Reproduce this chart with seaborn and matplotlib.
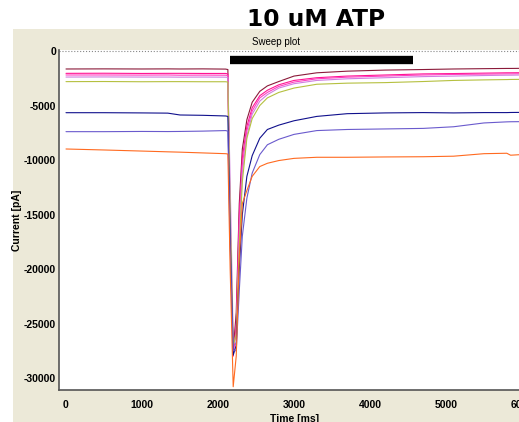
import pandas as pd
import numpy as np
import matplotlib.pyplot as plt
import seaborn as sns
from matplotlib.patches import Rectangle

# sweep times (ms) and current traces (pA)
time_ms = [0, 500, 1000, 1340, 1500, 1800, 2100, 2130, 2160, 2200, 2240, 2280, 2320, 2380,
           2450, 2550, 2650, 2800, 3000, 3300, 3700, 4200, 4700, 5100, 5500, 5800, 5850, 6000]

dark_red = [-1650, -1640, -1650, -1640, -1650, -1640, -1660, -1700, -16000, -27500, -24000, -14000, -9000, -6300,
            -4700, -3700, -3200, -2800, -2300, -2000, -1850, -1750, -1700, -1650, -1620, -1600, -1600, -1590]
magenta = [-2050, -2040, -2060, -2050, -2050, -2060, -2060, -2100, -17000, -28000, -25000, -15000, -9800, -6900,
           -5200, -4100, -3600, -3100, -2700, -2450, -2300, -2200, -2100, -2070, -2030, -2000, -2000, -1990]
hot_pink = [-2200, -2200, -2210, -2200, -2220, -2210, -2220, -2250, -16500, -27000, -26000, -16000, -10500, -7300,
            -5500, -4300, -3800, -3250, -2850, -2550, -2400, -2300, -2200, -2150, -2120, -2100, -2100, -2090]
violet = [-2390, -2380, -2390, -2390, -2400, -2390, -2400, -2420, -12000, -26500, -27000, -17500, -11200, -7800,
          -5800, -4600, -4000, -3400, -3000, -2700, -2550, -2450, -2350, -2300, -2250, -2220, -2220, -2200]
olive = [-2810, -2800, -2820, -2810, -2810, -2820, -2820, -2850, -15000, -27000, -26000, -18000, -12000, -8000,
         -6200, -5000, -4300, -3800, -3400, -3050, -2950, -2900, -2800, -2700, -2650, -2620, -2610, -2600]
navy = [-5660, -5660, -5680, -5700, -5870, -5900, -5960, -6000, -17000, -27900, -27000, -20000, -15000, -11500,
        -9600, -8000, -7200, -6800, -6400, -6000, -5750, -5680, -5650, -5680, -5650, -5650, -5640, -5630]
slate = [-7400, -7400, -7380, -7390, -7380, -7350, -7300, -7350, -18000, -27500, -27500, -22000, -17000, -13500,
         -11200, -9500, -8600, -8100, -7650, -7300, -7200, -7150, -7100, -6950, -6600, -6500, -6490, -6480]
orange = [-8990, -9080, -9180, -9250, -9280, -9350, -9420, -9450, -20000, -30800, -28000, -19000, -14000, -12800,
          -11500, -10600, -10300, -10050, -9850, -9750, -9750, -9720, -9700, -9650, -9420, -9380, -9560, -9500]

traces = {'dark red': dark_red, 'magenta': magenta, 'hot pink': hot_pink, 'violet': violet,
          'olive': olive, 'navy': navy, 'slate': slate, 'orange': orange}
colors = {'dark red': '#8B1A3A', 'magenta': '#FF1493', 'hot pink': '#FF40C0', 'violet': '#D080E0',
          'olive': '#B5C040', 'navy': '#10108C', 'slate': '#6A5ACD', 'orange': '#FF6A20'}

# bar marking ATP application
bar_start, bar_end, bar_level = 2158, 4566, -830

df = pd.concat([pd.DataFrame({'Time': time_ms, 'Current': v, 'trace': k}) for k, v in traces.items()])

sns.set_style('white')
plt.rcParams['font.family'] = ['Liberation Sans', 'DejaVu Sans']
plt.rcParams['text.color'] = 'black'
plt.rcParams['axes.unicode_minus'] = False

fig = plt.figure(figsize=(5.19, 4.22), dpi=100)
fig.patches.append(Rectangle((13 / 519, 0), 1, 1 - 29 / 422, transform=fig.transFigure,
                             facecolor='#ECE9D8', edgecolor='none', zorder=-5))

ax = fig.add_axes([59 / 519, 1 - 390 / 422, 470.6 / 519, 340 / 422])
ax.set_facecolor('white')

sns.lineplot(data=df, x='Time', y='Current', hue='trace', palette=colors, ax=ax,
             linewidth=0.8, legend=False)

ax.axhline(0, color='#888888', linestyle=':', linewidth=0.8)
ax.hlines(bar_level, bar_start, bar_end, color='black', linewidth=6)

ax.set_xlim(-92, 6100)
ax.set_ylim(-31100, 92)
ax.set_xticks(range(0, 7000, 1000))
ax.set_yticks(range(-30000, 1, 5000))
ax.tick_params(axis='both', length=0, colors='black', labelsize=7.5)
ax.tick_params(axis='y', pad=2)
ax.tick_params(axis='x', pad=7)
for lbl in ax.get_xticklabels() + ax.get_yticklabels():
    lbl.set_fontweight('bold')
for s in ['top', 'right']:
    ax.spines[s].set_visible(False)
for s in ['left', 'bottom']:
    ax.spines[s].set_color('#555555')
    ax.spines[s].set_linewidth(1.2)

ax.set_xlabel('Time [ms]', fontsize=7.5, fontweight='bold', color='black')
ax.set_ylabel('Current [pA]', fontsize=7.5, fontweight='bold', color='black')
ax.yaxis.set_label_coords(-0.079, 0.5)
ax.xaxis.set_label_coords(0.5, -0.07)

fig.text(276 / 519, 1 - 42 / 422, 'Sweep plot', ha='center', va='center', fontsize=7)
fig.text(316 / 519, 1 - 20 / 422, '10 uM ATP', ha='center', va='center', fontsize=16.8,
         fontweight='bold', family='DejaVu Sans')

fig.savefig('out.png', dpi=100)
